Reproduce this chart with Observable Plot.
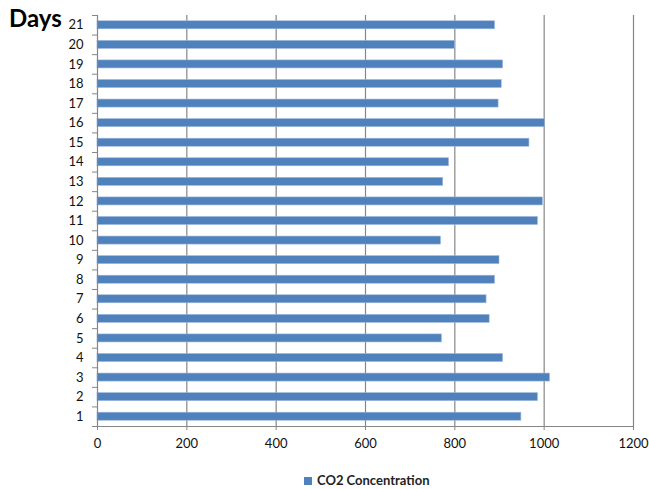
<!DOCTYPE html>
<html><head><meta charset="utf-8">
<script src="https://cdn.jsdelivr.net/npm/d3@7"></script>
<script src="https://cdn.jsdelivr.net/npm/@observablehq/plot@0.6"></script>
<style>
body{margin:0;background:#fff;font-family:Lato,"Open Sans",sans-serif;}
#wrap{position:relative;width:649px;height:489px;}
#title{position:absolute;left:9px;top:6px;font-weight:bold;font-size:24px;color:#000;line-height:1;}
#sw{position:absolute;left:304px;top:477px;width:8px;height:8px;background:#4F81BD;}
#legtext{position:absolute;left:317px;top:473px;font-size:13px;font-weight:bold;color:#222;line-height:15px;white-space:nowrap;}
</style></head><body>
<div id="wrap"><div id="chart"></div><div id="title">Days</div>
<div id="sw"></div><div id="legtext"></div></div>
<script>
const days = [1,2,3,4,5,6,7,8,9,10,11,12,13,14,15,16,17,18,19,20,21];
const co2 = [949,986,1013,908,771,878,871,890,900,769,986,997,774,787,967,1002,898,905,908,800,890];
const xTicks = [0,200,400,600,800,1000,1200];
const seriesName = "CO2 Concentration";

const data = days.map((d,i)=>({day:d, value:co2[i]}));
const half = 0.205;
const gray = "#868686";
const boundaries = d3.range(0.5, days.length + 1, 1);

const chart = Plot.plot({
  width:649, height:462,
  marginLeft:97, marginRight:16, marginTop:15, marginBottom:36,
  x:{domain:[0,1200]},
  y:{domain:[0.5,21.5]},
  style:{fontFamily:"Lato, 'Open Sans', sans-serif", fontSize:"13px", color:"#111", background:"#fff"},
  marks:[
    Plot.ruleX(xTicks.filter(v=>v>0), {stroke:gray, strokeWidth:1.2}),
    Plot.rectX(data, {x:"value", y1:d=>d.day-half, y2:d=>d.day+half, fill:"#4F81BD", stroke:"#9db8dc", strokeWidth:0.6}),
    Plot.ruleX([0], {stroke:gray, strokeWidth:1.2}),
    Plot.ruleY([0.5], {stroke:gray, strokeWidth:1.2}),
    Plot.axisX(xTicks, {tickSize:4, tickPadding:8, stroke:gray, label:null, tickFormat:d=>String(d)}),
    Plot.axisY(boundaries, {tickSize:5, tickFormat:()=>"", stroke:gray, label:null}),
    Plot.axisY(days, {tickSize:0, tickPadding:14, tickFormat:d=>String(d), label:null})
  ]
});
document.getElementById("chart").appendChild(chart);
document.getElementById("legtext").textContent = seriesName;
</script>
</body></html>
